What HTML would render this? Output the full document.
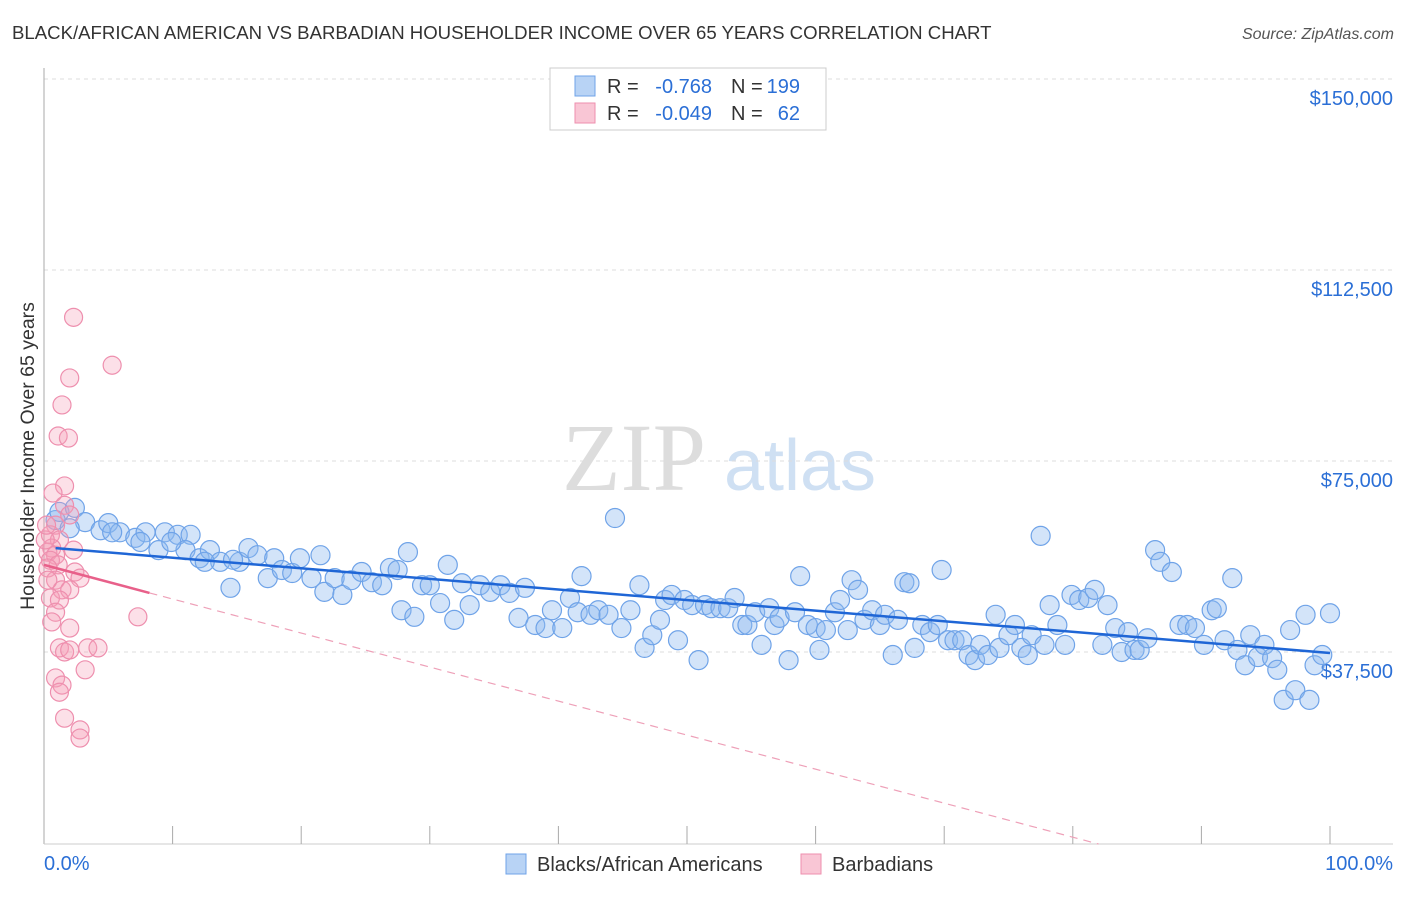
<!DOCTYPE html>
<html><head><meta charset="utf-8"><style>
body{margin:0;background:#fff;font-family:"Liberation Sans",sans-serif;}
svg text{font-family:"Liberation Sans",sans-serif;}
</style></head><body>
<svg id="chart" width="1406" height="892" xmlns="http://www.w3.org/2000/svg">
<text x="12" y="39" font-size="18.6" fill="#333">BLACK/AFRICAN AMERICAN VS BARBADIAN HOUSEHOLDER INCOME OVER 65 YEARS CORRELATION CHART</text>
<text x="1394" y="39" font-size="16" fill="#555" text-anchor="end" font-style="italic">Source: ZipAtlas.com</text>
<g>
<text x="634" y="490" font-size="96" fill="#ddd" text-anchor="middle" font-family="Liberation Serif" style="font-family:'Liberation Serif',serif">ZIP</text>
<text x="800" y="490" font-size="72" fill="#cfe0f3" text-anchor="middle">atlas</text>
</g>
<g id="grid"></g>
<g id="axes"></g>
<g id="marks"></g>
<text transform="translate(34,456) rotate(-90)" font-size="19.5" fill="#333" text-anchor="middle">Householder Income Over 65 years</text>
<g>
<rect x="550" y="68" width="276" height="62" fill="#fff" stroke="#ccc"/>
<rect x="575" y="76" width="20" height="20" fill="#b8d3f5" stroke="#6fa3e8"/>
<rect x="575" y="103" width="20" height="20" fill="#f9c6d5" stroke="#ee8fae"/>
<text x="607" y="93" font-size="20" fill="#333">R =</text>
<text x="712" y="93" font-size="20" fill="#2b6fd6" text-anchor="end">-0.768</text>
<text x="731" y="93" font-size="20" fill="#333">N =</text>
<text x="800" y="93" font-size="20" fill="#2b6fd6" text-anchor="end">199</text>
<text x="607" y="120" font-size="20" fill="#333">R =</text>
<text x="712" y="120" font-size="20" fill="#2b6fd6" text-anchor="end">-0.049</text>
<text x="731" y="120" font-size="20" fill="#333">N =</text>
<text x="800" y="120" font-size="20" fill="#2b6fd6" text-anchor="end">62</text>
</g>
<g>
<rect x="506" y="854" width="20" height="20" fill="#b8d3f5" stroke="#6fa3e8"/>
<text x="537" y="871" font-size="20" fill="#333">Blacks/African Americans</text>
<rect x="801" y="854" width="20" height="20" fill="#f9c6d5" stroke="#ee8fae"/>
<text x="832" y="871" font-size="20" fill="#333">Barbadians</text>
</g>
</svg>
<script>
const yTicks=[37500,75000,112500,150000];
const yTickLabels=["$37,500","$75,000","$112,500","$150,000"];
const xTickLabels=["0.0%","100.0%"];
const bluePct=[0.9,1.2,2.4,3.2,4.4,5.0,5.9,7.1,7.9,8.9,9.4,10.4,11.4,11.0,12.1,12.9,13.7,14.5,15.2,15.9,16.6,17.4,17.9,18.5,19.3,19.9,20.8,21.5,21.8,22.6,23.2,23.9,24.7,25.5,26.3,26.9,27.5,28.3,27.8,28.8,29.4,30.0,30.8,31.4,31.9,32.5,33.1,33.9,34.7,35.5,36.2,36.9,37.4,38.2,39.0,39.5,40.3,40.9,41.5,41.8,42.5,43.1,43.9,44.4,44.9,45.6,46.3,46.7,47.3,47.9,48.3,48.8,49.3,49.8,50.4,50.9,51.4,51.9,52.6,53.2,53.7,54.3,54.7,55.3,55.8,56.4,56.8,57.2,57.9,58.4,58.8,59.4,60.0,60.3,60.8,61.5,61.9,62.5,62.8,63.3,63.8,64.4,65.0,65.4,66.0,66.4,66.9,67.3,67.7,68.3,68.9,69.5,69.8,70.3,70.8,71.4,71.9,72.4,72.8,73.4,74.0,74.3,75.0,75.5,76.0,76.5,76.8,77.5,77.8,78.2,78.8,79.4,79.9,80.5,81.2,81.7,82.3,82.7,83.3,83.8,84.3,84.8,85.2,85.8,86.4,86.8,87.7,88.3,88.9,89.5,90.2,90.8,91.2,91.8,92.4,92.8,93.4,93.8,94.4,94.9,95.5,95.9,96.4,96.9,97.3,98.1,98.4,98.8,99.4,100,2.0,5.3,7.5,9.9,12.5,14.7];
const blueVal=[63.6,65.2,66.0,63.2,61.6,63.0,61.2,60.1,61.2,57.7,61.2,60.7,60.7,57.7,56.1,57.7,55.4,50.3,55.4,58.1,56.7,52.2,56.1,53.8,53.2,56.1,52.2,56.7,49.5,52.2,48.9,51.8,53.4,51.4,50.8,54.2,53.8,57.3,45.9,44.6,50.8,50.8,47.3,54.8,44.0,51.2,46.9,50.8,49.5,50.8,49.3,44.4,50.3,43.0,42.4,45.9,42.4,48.3,45.5,52.6,45.0,45.9,45.0,64.0,42.4,45.9,50.8,38.5,41.0,44.0,47.9,48.9,40.0,47.9,46.9,36.1,46.9,46.3,46.3,46.3,48.3,43.0,43.0,45.5,39.1,46.3,43.0,44.4,36.1,45.5,52.6,43.0,42.4,38.1,42.0,45.5,47.9,42.0,51.8,49.9,44.0,45.9,43.0,45.0,37.1,44.0,51.4,51.2,38.5,43.0,41.6,43.0,53.8,40.0,40.0,40.0,37.1,36.1,39.1,37.1,45.0,38.5,41.0,43.0,38.5,37.1,41.0,60.5,39.1,46.9,43.0,39.1,48.9,47.9,48.3,49.9,39.1,46.9,42.4,37.7,41.6,38.1,38.1,40.4,57.7,55.4,53.4,43.0,43.0,42.4,39.1,45.9,46.3,40.0,52.2,38.1,35.1,41.0,36.7,39.1,36.5,34.2,28.3,42.0,30.2,45.0,28.3,35.1,37.1,45.3,62.0,61.2,59.3,59.3,55.4,55.8];
const pinkPct=[2.3,5.3,2.0,1.4,1.1,1.9,1.6,0.7,1.6,2.0,0.9,0.5,1.2,0.6,0.3,0.9,2.3,0.5,1.1,0.3,2.4,2.8,0.9,1.4,2.0,0.5,1.2,0.9,7.3,2.0,0.6,1.2,1.6,2.0,3.4,4.2,3.2,0.9,1.4,1.2,1.6,2.8,2.8,0.3,0.1,0.2];
const pinkVal=[103.4,94.0,91.5,86.2,80.1,79.7,70.3,68.9,66.5,64.6,62.6,60.7,59.7,58.1,57.3,56.7,57.7,55.7,54.8,54.2,53.4,52.2,51.8,49.9,49.9,48.3,47.9,45.5,44.6,42.4,43.6,38.5,37.7,38.1,38.5,38.5,34.2,32.6,31.2,29.8,24.7,22.4,20.8,51.8,59.7,62.6];
const blueTrend=[[0.9,58.1],[100,37.5]];
const pinkTrendSolid=[[0,54.8],[8.2,49.3]];
const pinkTrendDash=[[8.2,49.3],[82,0]];

const NS="http://www.w3.org/2000/svg";
const X0=44,X1=1330,YB=844,PX=191/37.5;
const sx=p=>X0+(X1-X0)*p/100;
const sy=v=>YB-v*PX;
function mk(tag,attrs,parent){const e=document.createElementNS(NS,tag);for(const k in attrs)e.setAttribute(k,attrs[k]);parent.appendChild(e);return e;}
const grid=document.getElementById('grid'),axes=document.getElementById('axes'),marks=document.getElementById('marks');
yTicks.forEach((t,i)=>{
 const l=mk('line',{x1:X0,x2:1393,y1:sy(t/1000)-1,y2:sy(t/1000)-1,stroke:'#ddd','stroke-dasharray':'4,4'},grid);
 
 
 const tx=mk('text',{x:1393,y:sy(t/1000)+25,'font-size':20,fill:'#2b6fd6','text-anchor':'end'},axes);
 tx.textContent=yTickLabels[i];
 
 
});
const ax=mk('line',{x1:X0,x2:X0,y1:68,y2:YB,stroke:'#aaa'},axes);


const bx=mk('line',{x1:X0,x2:1393,y1:YB,y2:YB,stroke:'#ccc'},axes);


for(let i=1;i<=10;i++){const t=mk('line',{x1:sx(i*10),x2:sx(i*10),y1:826,y2:YB,stroke:'#aaa'},axes);
 
 }
const xl0=mk('text',{x:X0,y:870,'font-size':20,fill:'#2b6fd6'},axes);xl0.textContent=xTickLabels[0];


const xl1=mk('text',{x:1393,y:870,'font-size':20,fill:'#2b6fd6','text-anchor':'end'},axes);xl1.textContent=xTickLabels[1];


bluePct.forEach((p,i)=>{const c=mk('circle',{cx:sx(p),cy:sy(blueVal[i]),r:9.5,fill:'rgba(140,185,240,0.38)',stroke:'#6fa3e8','stroke-width':1.2},marks);
 
 });
pinkPct.forEach((p,i)=>{const c=mk('circle',{cx:sx(p),cy:sy(pinkVal[i]),r:9,fill:'rgba(245,160,185,0.32)',stroke:'#ee8fae','stroke-width':1.2},marks);
 
 });
function tl(pts,attrs,name){const l=mk('line',Object.assign({x1:sx(pts[0][0]),y1:sy(pts[0][1]),x2:sx(pts[1][0]),y2:sy(pts[1][1])},attrs),marks);
 
 }
tl(blueTrend,{stroke:'#1f66d6','stroke-width':2.5},'blacks-trend-line');
tl(pinkTrendSolid,{stroke:'#e8608a','stroke-width':2.5},'barbadians-trend-line');
tl(pinkTrendDash,{stroke:'#eea0b8','stroke-width':1.2,'stroke-dasharray':'8,6'},'barbadians-trend-extension');
</script>
</body></html>
